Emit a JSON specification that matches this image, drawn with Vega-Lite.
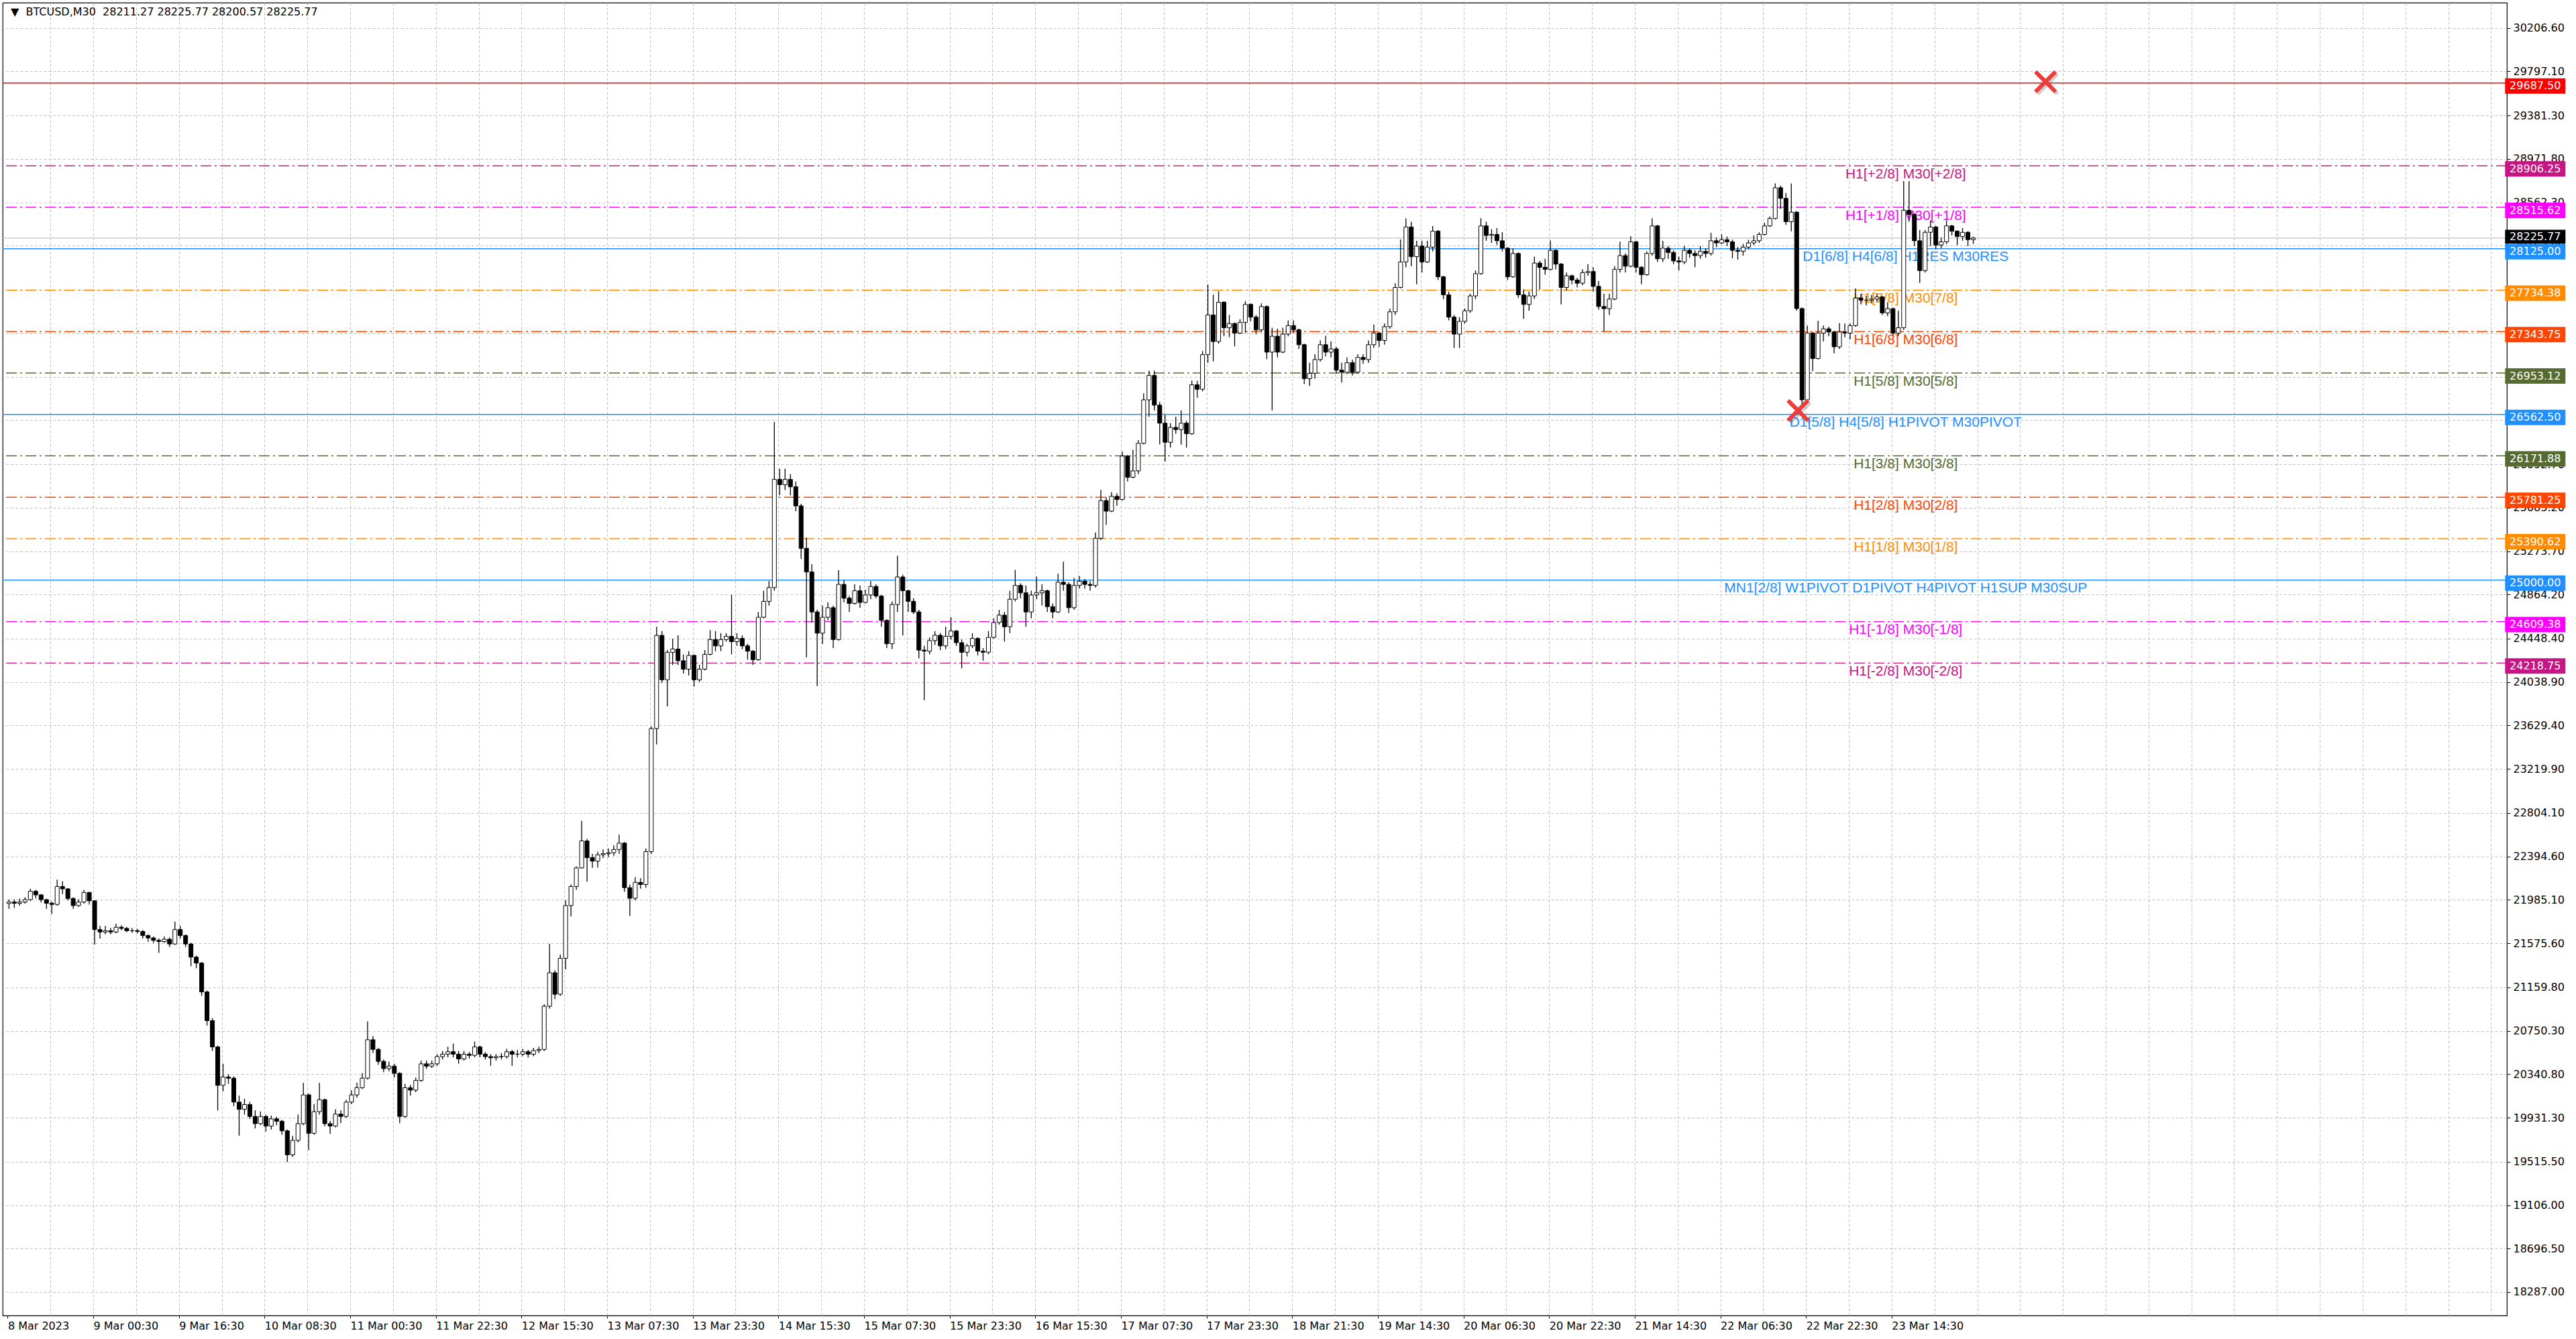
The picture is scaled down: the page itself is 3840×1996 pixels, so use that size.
{
"$schema":"https://vega.github.io/schema/vega-lite/v6.json",
"width":3733,"height":1957,
"padding":{"left":3,"top":4,"right":16,"bottom":4},
"background":"white",
"config":{"view":{"stroke":"#000000","strokeWidth":1.2,"fill":"white"},
 "axisY":{"grid":true,"gridColor":"#C0C0C0","gridDash":[4,3],"gridWidth":1,"domain":false,"ticks":true,"tickColor":"#000000","tickSize":5,"tickWidth":1,"labelFont":"DejaVu Sans","labelFontSize":16,"labelColor":"#000000","labelPadding":4,"labelAlign":"left","labelBaseline":"middle","labelOverlap":false,"labelFlush":false,"labelBound":false}},
"datasets":{
"candles":[
{"t":0,"o":21950,"h":21990,"l":21900,"c":21965},{"t":1,"o":21965,"h":21990,"l":21910,"c":21953},{"t":2,"o":21953,"h":21995,"l":21930,"c":21965},{"t":3,"o":21965,"h":22010,"l":21950,"c":21987},{"t":4,"o":21987,"h":22090,"l":21975,"c":22066},{"t":5,"o":22066,"h":22080,"l":22000,"c":22032},{"t":6,"o":22032,"h":22040,"l":21960,"c":21987},{"t":7,"o":21987,"h":21995,"l":21900,"c":21953},{"t":8,"o":21953,"h":21970,"l":21852,"c":21942},{"t":9,"o":21942,"h":22175,"l":21930,"c":22111},
{"t":10,"o":22111,"h":22160,"l":22040,"c":22089},{"t":11,"o":22089,"h":22095,"l":21980,"c":21998},{"t":12,"o":21998,"h":22010,"l":21900,"c":21931},{"t":13,"o":21931,"h":21990,"l":21920,"c":21965},{"t":14,"o":21965,"h":22080,"l":21950,"c":22055},{"t":15,"o":22055,"h":22060,"l":21940,"c":21976},{"t":16,"o":21976,"h":21980,"l":21563,"c":21705},{"t":17,"o":21705,"h":21740,"l":21620,"c":21682},{"t":18,"o":21682,"h":21740,"l":21660,"c":21694},{"t":19,"o":21694,"h":21720,"l":21660,"c":21682},
{"t":20,"o":21682,"h":21760,"l":21670,"c":21727},{"t":21,"o":21727,"h":21745,"l":21700,"c":21716},{"t":22,"o":21716,"h":21730,"l":21680,"c":21694},{"t":23,"o":21694,"h":21720,"l":21675,"c":21694},{"t":24,"o":21694,"h":21710,"l":21670,"c":21687},{"t":25,"o":21687,"h":21700,"l":21620,"c":21648},{"t":26,"o":21648,"h":21660,"l":21590,"c":21626},{"t":27,"o":21626,"h":21640,"l":21580,"c":21603},{"t":28,"o":21603,"h":21620,"l":21485,"c":21592},{"t":29,"o":21592,"h":21640,"l":21580,"c":21614},
{"t":30,"o":21614,"h":21630,"l":21540,"c":21569},{"t":31,"o":21569,"h":21779,"l":21560,"c":21705},{"t":32,"o":21705,"h":21740,"l":21620,"c":21648},{"t":33,"o":21648,"h":21660,"l":21540,"c":21569},{"t":34,"o":21569,"h":21580,"l":21360,"c":21445},{"t":35,"o":21445,"h":21460,"l":21340,"c":21389},{"t":36,"o":21389,"h":21400,"l":21080,"c":21117},{"t":37,"o":21117,"h":21130,"l":20800,"c":20846},{"t":38,"o":20846,"h":20870,"l":20560,"c":20598},{"t":39,"o":20598,"h":20610,"l":19999,"c":20236},
{"t":40,"o":20236,"h":20440,"l":20180,"c":20315},{"t":41,"o":20315,"h":20340,"l":20250,"c":20304},{"t":42,"o":20304,"h":20320,"l":20040,"c":20078},{"t":43,"o":20078,"h":20140,"l":19762,"c":20010},{"t":44,"o":20010,"h":20110,"l":19960,"c":20055},{"t":45,"o":20055,"h":20080,"l":19920,"c":19943},{"t":46,"o":19943,"h":20000,"l":19830,"c":19875},{"t":47,"o":19875,"h":19990,"l":19860,"c":19943},{"t":48,"o":19943,"h":19960,"l":19800,"c":19852},{"t":49,"o":19852,"h":19950,"l":19820,"c":19920},
{"t":50,"o":19920,"h":19940,"l":19860,"c":19898},{"t":51,"o":19898,"h":19910,"l":19770,"c":19807},{"t":52,"o":19807,"h":19820,"l":19513,"c":19581},{"t":53,"o":19581,"h":19760,"l":19560,"c":19717},{"t":54,"o":19717,"h":19960,"l":19700,"c":19875},{"t":55,"o":19875,"h":20259,"l":19860,"c":20146},{"t":56,"o":20146,"h":20160,"l":19626,"c":19784},{"t":57,"o":19784,"h":20060,"l":19770,"c":19988},{"t":58,"o":19988,"h":20259,"l":19960,"c":20101},{"t":59,"o":20101,"h":20110,"l":19850,"c":19875},
{"t":60,"o":19875,"h":19900,"l":19780,"c":19852},{"t":61,"o":19852,"h":20010,"l":19840,"c":19965},{"t":62,"o":19965,"h":20000,"l":19880,"c":19943},{"t":63,"o":19943,"h":20100,"l":19930,"c":20078},{"t":64,"o":20078,"h":20190,"l":20060,"c":20146},{"t":65,"o":20146,"h":20260,"l":20120,"c":20214},{"t":66,"o":20214,"h":20350,"l":20200,"c":20304},{"t":67,"o":20304,"h":20840,"l":20290,"c":20666},{"t":68,"o":20666,"h":20700,"l":20540,"c":20575},{"t":69,"o":20575,"h":20590,"l":20430,"c":20462},
{"t":70,"o":20462,"h":20480,"l":20360,"c":20394},{"t":71,"o":20394,"h":20460,"l":20370,"c":20417},{"t":72,"o":20417,"h":20440,"l":20310,"c":20349},{"t":73,"o":20349,"h":20360,"l":19880,"c":19943},{"t":74,"o":19943,"h":20250,"l":19930,"c":20214},{"t":75,"o":20214,"h":20240,"l":20140,"c":20191},{"t":76,"o":20191,"h":20310,"l":20170,"c":20282},{"t":77,"o":20282,"h":20470,"l":20270,"c":20439},{"t":78,"o":20439,"h":20470,"l":20390,"c":20417},{"t":79,"o":20417,"h":20470,"l":20400,"c":20439},
{"t":80,"o":20439,"h":20530,"l":20420,"c":20507},{"t":81,"o":20507,"h":20560,"l":20480,"c":20530},{"t":82,"o":20530,"h":20600,"l":20500,"c":20553},{"t":83,"o":20553,"h":20630,"l":20500,"c":20530},{"t":84,"o":20530,"h":20560,"l":20440,"c":20485},{"t":85,"o":20485,"h":20560,"l":20470,"c":20530},{"t":86,"o":20530,"h":20550,"l":20490,"c":20519},{"t":87,"o":20519,"h":20650,"l":20500,"c":20598},{"t":88,"o":20598,"h":20610,"l":20500,"c":20530},{"t":89,"o":20530,"h":20550,"l":20480,"c":20507},
{"t":90,"o":20507,"h":20530,"l":20420,"c":20496},{"t":91,"o":20496,"h":20530,"l":20470,"c":20507},{"t":92,"o":20507,"h":20540,"l":20480,"c":20507},{"t":93,"o":20507,"h":20580,"l":20490,"c":20553},{"t":94,"o":20553,"h":20570,"l":20420,"c":20530},{"t":95,"o":20530,"h":20570,"l":20500,"c":20530},{"t":96,"o":20530,"h":20580,"l":20510,"c":20553},{"t":97,"o":20553,"h":20570,"l":20500,"c":20530},{"t":98,"o":20530,"h":20590,"l":20510,"c":20564},{"t":99,"o":20564,"h":20600,"l":20540,"c":20575},
{"t":100,"o":20575,"h":21000,"l":20560,"c":20982},{"t":101,"o":20982,"h":21569,"l":20960,"c":21298},{"t":102,"o":21298,"h":21320,"l":21050,"c":21095},{"t":103,"o":21095,"h":21470,"l":21080,"c":21434},{"t":104,"o":21434,"h":21980,"l":21330,"c":21931},{"t":105,"o":21931,"h":22130,"l":21830,"c":22111},{"t":106,"o":22111,"h":22300,"l":22080,"c":22286},{"t":107,"o":22286,"h":22731,"l":22280,"c":22541},{"t":108,"o":22541,"h":22560,"l":22157,"c":22383},{"t":109,"o":22383,"h":22420,"l":22286,"c":22350},
{"t":110,"o":22350,"h":22440,"l":22290,"c":22410},{"t":111,"o":22410,"h":22460,"l":22380,"c":22420},{"t":112,"o":22420,"h":22470,"l":22390,"c":22430},{"t":113,"o":22430,"h":22500,"l":22400,"c":22460},{"t":114,"o":22460,"h":22600,"l":22420,"c":22520},{"t":115,"o":22520,"h":22530,"l":22060,"c":22100},{"t":116,"o":22100,"h":22130,"l":21834,"c":22000},{"t":117,"o":22000,"h":22200,"l":21980,"c":22150},{"t":118,"o":22150,"h":22190,"l":22090,"c":22130},{"t":119,"o":22130,"h":22470,"l":22100,"c":22440},
{"t":120,"o":22440,"h":23620,"l":22420,"c":23600},{"t":121,"o":23600,"h":24561,"l":23450,"c":24479},{"t":122,"o":24479,"h":24520,"l":24030,"c":24060},{"t":123,"o":24060,"h":24340,"l":23810,"c":24319},{"t":124,"o":24319,"h":24448,"l":24200,"c":24350},{"t":125,"o":24350,"h":24480,"l":24200,"c":24240},{"t":126,"o":24240,"h":24300,"l":24120,"c":24160},{"t":127,"o":24160,"h":24330,"l":24100,"c":24290},{"t":128,"o":24290,"h":24300,"l":23996,"c":24060},{"t":129,"o":24060,"h":24200,"l":24040,"c":24160},
{"t":130,"o":24160,"h":24340,"l":24150,"c":24300},{"t":131,"o":24300,"h":24529,"l":24290,"c":24440},{"t":132,"o":24440,"h":24520,"l":24330,"c":24380},{"t":133,"o":24380,"h":24500,"l":24330,"c":24440},{"t":134,"o":24440,"h":24500,"l":24420,"c":24470},{"t":135,"o":24470,"h":24861,"l":24300,"c":24420},{"t":136,"o":24420,"h":24500,"l":24380,"c":24450},{"t":137,"o":24450,"h":24480,"l":24350,"c":24380},{"t":138,"o":24380,"h":24400,"l":24250,"c":24330},{"t":139,"o":24330,"h":24340,"l":24200,"c":24250},
{"t":140,"o":24250,"h":24700,"l":24240,"c":24650},{"t":141,"o":24650,"h":24900,"l":24640,"c":24800},{"t":142,"o":24800,"h":24990,"l":24760,"c":24930},{"t":143,"o":24930,"h":26491,"l":24900,"c":25950},{"t":144,"o":25950,"h":26050,"l":25800,"c":25900},{"t":145,"o":25900,"h":26050,"l":25850,"c":25950},{"t":146,"o":25950,"h":26000,"l":25800,"c":25880},{"t":147,"o":25880,"h":25930,"l":25650,"c":25700},{"t":148,"o":25700,"h":25720,"l":25200,"c":25300},{"t":149,"o":25300,"h":25400,"l":24271,"c":25077},
{"t":150,"o":25077,"h":25150,"l":24600,"c":24700},{"t":151,"o":24700,"h":24720,"l":24000,"c":24500},{"t":152,"o":24500,"h":24760,"l":24400,"c":24650},{"t":153,"o":24650,"h":24790,"l":24620,"c":24740},{"t":154,"o":24740,"h":24760,"l":24360,"c":24440},{"t":155,"o":24440,"h":25094,"l":24430,"c":24960},{"t":156,"o":24960,"h":25000,"l":24790,"c":24830},{"t":157,"o":24830,"h":24850,"l":24700,"c":24780},{"t":158,"o":24780,"h":24960,"l":24770,"c":24900},{"t":159,"o":24900,"h":24950,"l":24740,"c":24790},
{"t":160,"o":24790,"h":24910,"l":24780,"c":24860},{"t":161,"o":24860,"h":24990,"l":24820,"c":24940},{"t":162,"o":24940,"h":24960,"l":24830,"c":24850},{"t":163,"o":24850,"h":24860,"l":24560,"c":24620},{"t":164,"o":24620,"h":24630,"l":24360,"c":24400},{"t":165,"o":24400,"h":24800,"l":24350,"c":24770},{"t":166,"o":24770,"h":25229,"l":24700,"c":25030},{"t":167,"o":25030,"h":25050,"l":24480,"c":24900},{"t":168,"o":24900,"h":24910,"l":24700,"c":24800},{"t":169,"o":24800,"h":24830,"l":24680,"c":24700},
{"t":170,"o":24700,"h":24720,"l":24262,"c":24340},{"t":171,"o":24340,"h":24380,"l":23868,"c":24330},{"t":172,"o":24330,"h":24460,"l":24300,"c":24430},{"t":173,"o":24430,"h":24520,"l":24390,"c":24480},{"t":174,"o":24480,"h":24500,"l":24340,"c":24380},{"t":175,"o":24380,"h":24560,"l":24350,"c":24470},{"t":176,"o":24470,"h":24650,"l":24440,"c":24520},{"t":177,"o":24520,"h":24530,"l":24380,"c":24410},{"t":178,"o":24410,"h":24440,"l":24167,"c":24320},{"t":179,"o":24320,"h":24400,"l":24280,"c":24380},
{"t":180,"o":24380,"h":24500,"l":24360,"c":24450},{"t":181,"o":24450,"h":24460,"l":24290,"c":24330},{"t":182,"o":24330,"h":24360,"l":24240,"c":24320},{"t":183,"o":24320,"h":24520,"l":24300,"c":24460},{"t":184,"o":24460,"h":24640,"l":24450,"c":24600},{"t":185,"o":24600,"h":24720,"l":24580,"c":24670},{"t":186,"o":24670,"h":24700,"l":24420,"c":24560},{"t":187,"o":24560,"h":24900,"l":24500,"c":24820},{"t":188,"o":24820,"h":25096,"l":24800,"c":24950},{"t":189,"o":24950,"h":24970,"l":24830,"c":24880},
{"t":190,"o":24880,"h":24950,"l":24560,"c":24700},{"t":191,"o":24700,"h":24900,"l":24640,"c":24860},{"t":192,"o":24860,"h":25033,"l":24820,"c":24880},{"t":193,"o":24880,"h":24960,"l":24760,"c":24900},{"t":194,"o":24900,"h":24910,"l":24700,"c":24750},{"t":195,"o":24750,"h":24780,"l":24640,"c":24700},{"t":196,"o":24700,"h":25060,"l":24690,"c":24980},{"t":197,"o":24980,"h":25174,"l":24900,"c":24960},{"t":198,"o":24960,"h":24980,"l":24690,"c":24740},{"t":199,"o":24740,"h":25020,"l":24720,"c":24950},
{"t":200,"o":24950,"h":25040,"l":24920,"c":24990},{"t":201,"o":24990,"h":25010,"l":24920,"c":24960},{"t":202,"o":24960,"h":24990,"l":24900,"c":24950},{"t":203,"o":24950,"h":25450,"l":24930,"c":25395},{"t":204,"o":25395,"h":25851,"l":25380,"c":25750},{"t":205,"o":25750,"h":25780,"l":25520,"c":25650},{"t":206,"o":25650,"h":25830,"l":25640,"c":25790},{"t":207,"o":25790,"h":25820,"l":25700,"c":25760},{"t":208,"o":25760,"h":26213,"l":25750,"c":26170},{"t":209,"o":26170,"h":26180,"l":25930,"c":25970},
{"t":210,"o":25970,"h":26229,"l":25960,"c":26030},{"t":211,"o":26030,"h":26320,"l":26000,"c":26290},{"t":212,"o":26290,"h":26760,"l":26280,"c":26700},{"t":213,"o":26700,"h":26975,"l":26540,"c":26930},{"t":214,"o":26930,"h":26975,"l":26600,"c":26650},{"t":215,"o":26650,"h":26680,"l":26280,"c":26480},{"t":216,"o":26480,"h":26560,"l":26119,"c":26300},{"t":217,"o":26300,"h":26480,"l":26250,"c":26440},{"t":218,"o":26440,"h":26540,"l":26380,"c":26420},{"t":219,"o":26420,"h":26600,"l":26276,"c":26480},
{"t":220,"o":26480,"h":26500,"l":26250,"c":26380},{"t":221,"o":26380,"h":26880,"l":26370,"c":26842},{"t":222,"o":26842,"h":26880,"l":26720,"c":26800},{"t":223,"o":26800,"h":27160,"l":26780,"c":27126},{"t":224,"o":27126,"h":27787,"l":27050,"c":27500},{"t":225,"o":27500,"h":27692,"l":27063,"c":27250},{"t":226,"o":27250,"h":27724,"l":27230,"c":27620},{"t":227,"o":27620,"h":27630,"l":27300,"c":27380},{"t":228,"o":27380,"h":27500,"l":27290,"c":27420},{"t":229,"o":27420,"h":27430,"l":27204,"c":27330},
{"t":230,"o":27330,"h":27460,"l":27320,"c":27430},{"t":231,"o":27430,"h":27632,"l":27330,"c":27600},{"t":232,"o":27600,"h":27610,"l":27440,"c":27480},{"t":233,"o":27480,"h":27500,"l":27320,"c":27360},{"t":234,"o":27360,"h":27610,"l":27340,"c":27580},{"t":235,"o":27580,"h":27590,"l":27084,"c":27150},{"t":236,"o":27150,"h":27380,"l":26600,"c":27300},{"t":237,"o":27300,"h":27370,"l":27100,"c":27150},{"t":238,"o":27150,"h":27380,"l":27140,"c":27320},{"t":239,"o":27320,"h":27450,"l":27300,"c":27400},
{"t":240,"o":27400,"h":27450,"l":27330,"c":27360},{"t":241,"o":27360,"h":27370,"l":27180,"c":27220},{"t":242,"o":27220,"h":27230,"l":26850,"c":26900},{"t":243,"o":26900,"h":27050,"l":26831,"c":26950},{"t":244,"o":26950,"h":27130,"l":26900,"c":27080},{"t":245,"o":27080,"h":27260,"l":27060,"c":27220},{"t":246,"o":27220,"h":27305,"l":27110,"c":27150},{"t":247,"o":27150,"h":27250,"l":27100,"c":27180},{"t":248,"o":27180,"h":27200,"l":26950,"c":26980},{"t":249,"o":26980,"h":27050,"l":26863,"c":26960},
{"t":250,"o":26960,"h":27100,"l":26940,"c":27050},{"t":251,"o":27050,"h":27080,"l":26930,"c":26960},{"t":252,"o":26960,"h":27130,"l":26950,"c":27100},{"t":253,"o":27100,"h":27130,"l":27040,"c":27080},{"t":254,"o":27080,"h":27260,"l":27050,"c":27220},{"t":255,"o":27220,"h":27411,"l":27190,"c":27330},{"t":256,"o":27330,"h":27340,"l":27200,"c":27260},{"t":257,"o":27260,"h":27420,"l":27220,"c":27390},{"t":258,"o":27390,"h":27560,"l":27370,"c":27530},{"t":259,"o":27530,"h":27800,"l":27500,"c":27760},
{"t":260,"o":27760,"h":28212,"l":27750,"c":28000},{"t":261,"o":28000,"h":28412,"l":27950,"c":28330},{"t":262,"o":28330,"h":28380,"l":27960,"c":28050},{"t":263,"o":28050,"h":28200,"l":27790,"c":28150},{"t":264,"o":28150,"h":28200,"l":27900,"c":28000},{"t":265,"o":28000,"h":28200,"l":27990,"c":28140},{"t":266,"o":28140,"h":28339,"l":28100,"c":28290},{"t":267,"o":28290,"h":28300,"l":27830,"c":27860},{"t":268,"o":27860,"h":27870,"l":27650,"c":27690},{"t":269,"o":27690,"h":27720,"l":27450,"c":27480},
{"t":270,"o":27480,"h":27500,"l":27189,"c":27320},{"t":271,"o":27320,"h":27480,"l":27189,"c":27440},{"t":272,"o":27440,"h":27560,"l":27420,"c":27540},{"t":273,"o":27540,"h":27700,"l":27520,"c":27680},{"t":274,"o":27680,"h":27920,"l":27650,"c":27890},{"t":275,"o":27890,"h":28412,"l":27880,"c":28340},{"t":276,"o":28340,"h":28380,"l":28200,"c":28250},{"t":277,"o":28250,"h":28310,"l":28180,"c":28260},{"t":278,"o":28260,"h":28320,"l":28160,"c":28200},{"t":279,"o":28200,"h":28280,"l":28100,"c":28130},
{"t":280,"o":28130,"h":28140,"l":27830,"c":27860},{"t":281,"o":27860,"h":28130,"l":27850,"c":28080},{"t":282,"o":28080,"h":28090,"l":27660,"c":27690},{"t":283,"o":27690,"h":27740,"l":27464,"c":27600},{"t":284,"o":27600,"h":27720,"l":27540,"c":27680},{"t":285,"o":27680,"h":28050,"l":27650,"c":27990},{"t":286,"o":27990,"h":28010,"l":27740,"c":27950},{"t":287,"o":27950,"h":28030,"l":27880,"c":27930},{"t":288,"o":27930,"h":28202,"l":27920,"c":28110},{"t":289,"o":28110,"h":28120,"l":27930,"c":27980},
{"t":290,"o":27980,"h":27990,"l":27600,"c":27760},{"t":291,"o":27760,"h":27900,"l":27730,"c":27870},{"t":292,"o":27870,"h":27880,"l":27790,"c":27830},{"t":293,"o":27830,"h":27850,"l":27760,"c":27800},{"t":294,"o":27800,"h":27930,"l":27780,"c":27900},{"t":295,"o":27900,"h":27980,"l":27870,"c":27910},{"t":296,"o":27910,"h":27950,"l":27720,"c":27770},{"t":297,"o":27770,"h":27820,"l":27550,"c":27580},{"t":298,"o":27580,"h":27700,"l":27348,"c":27560},{"t":299,"o":27560,"h":27700,"l":27500,"c":27650},
{"t":300,"o":27650,"h":27960,"l":27640,"c":27930},{"t":301,"o":27930,"h":28191,"l":27900,"c":28060},{"t":302,"o":28060,"h":28080,"l":27900,"c":27960},{"t":303,"o":27960,"h":28244,"l":27950,"c":28190},{"t":304,"o":28190,"h":28200,"l":27900,"c":27950},{"t":305,"o":27950,"h":27960,"l":27790,"c":27880},{"t":306,"o":27880,"h":28100,"l":27870,"c":28080},{"t":307,"o":28080,"h":28412,"l":28060,"c":28340},{"t":308,"o":28340,"h":28350,"l":28000,"c":28030},{"t":309,"o":28030,"h":28200,"l":28000,"c":28130},
{"t":310,"o":28130,"h":28150,"l":28030,"c":28090},{"t":311,"o":28090,"h":28110,"l":27980,"c":28010},{"t":312,"o":28010,"h":28050,"l":27920,"c":28000},{"t":313,"o":28000,"h":28150,"l":27980,"c":28110},{"t":314,"o":28110,"h":28130,"l":28040,"c":28080},{"t":315,"o":28080,"h":28110,"l":27950,"c":28060},{"t":316,"o":28060,"h":28150,"l":28030,"c":28100},{"t":317,"o":28100,"h":28130,"l":28040,"c":28080},{"t":318,"o":28080,"h":28276,"l":28060,"c":28200},{"t":319,"o":28200,"h":28230,"l":28140,"c":28180},
{"t":320,"o":28180,"h":28260,"l":28170,"c":28210},{"t":321,"o":28210,"h":28240,"l":28150,"c":28190},{"t":322,"o":28190,"h":28210,"l":28035,"c":28110},{"t":323,"o":28110,"h":28140,"l":28022,"c":28100},{"t":324,"o":28100,"h":28170,"l":28060,"c":28140},{"t":325,"o":28140,"h":28210,"l":28120,"c":28180},{"t":326,"o":28180,"h":28250,"l":28160,"c":28200},{"t":327,"o":28200,"h":28280,"l":28180,"c":28260},{"t":328,"o":28260,"h":28370,"l":28250,"c":28340},{"t":329,"o":28340,"h":28430,"l":28330,"c":28410},
{"t":330,"o":28410,"h":28741,"l":28400,"c":28700},{"t":331,"o":28700,"h":28720,"l":28500,"c":28600},{"t":332,"o":28600,"h":28650,"l":28350,"c":28380},{"t":333,"o":28380,"h":28741,"l":28290,"c":28470},{"t":334,"o":28470,"h":28480,"l":27540,"c":27561},{"t":335,"o":27561,"h":27570,"l":26640,"c":26700},{"t":336,"o":26700,"h":27400,"l":26690,"c":27330},{"t":337,"o":27330,"h":27340,"l":26970,"c":27090},{"t":338,"o":27090,"h":27445,"l":27080,"c":27330},{"t":339,"o":27330,"h":27400,"l":27250,"c":27370},
{"t":340,"o":27370,"h":27390,"l":27300,"c":27340},{"t":341,"o":27340,"h":27350,"l":27139,"c":27200},{"t":342,"o":27200,"h":27424,"l":27180,"c":27340},{"t":343,"o":27340,"h":27420,"l":27290,"c":27330},{"t":344,"o":27330,"h":27420,"l":27270,"c":27400},{"t":345,"o":27400,"h":27750,"l":27390,"c":27660},{"t":346,"o":27660,"h":27700,"l":27600,"c":27640},{"t":347,"o":27640,"h":27680,"l":27590,"c":27640},{"t":348,"o":27640,"h":27690,"l":27610,"c":27650},{"t":349,"o":27650,"h":27700,"l":27620,"c":27670},
{"t":350,"o":27670,"h":27680,"l":27500,"c":27520},{"t":351,"o":27520,"h":27620,"l":27490,"c":27560},{"t":352,"o":27560,"h":27570,"l":27308,"c":27330},{"t":353,"o":27330,"h":27540,"l":27300,"c":27380},{"t":354,"o":27380,"h":28762,"l":27360,"c":28488},{"t":355,"o":28488,"h":28762,"l":28380,"c":28450},{"t":356,"o":28450,"h":28460,"l":28150,"c":28200},{"t":357,"o":28200,"h":28300,"l":27803,"c":27919},{"t":358,"o":27919,"h":28300,"l":27900,"c":28280},{"t":359,"o":28280,"h":28393,"l":28150,"c":28330},
{"t":360,"o":28330,"h":28340,"l":28120,"c":28160},{"t":361,"o":28160,"h":28230,"l":28130,"c":28190},{"t":362,"o":28190,"h":28393,"l":28170,"c":28340},{"t":363,"o":28340,"h":28350,"l":28250,"c":28290},{"t":364,"o":28290,"h":28300,"l":28160,"c":28240},{"t":365,"o":28240,"h":28320,"l":28200,"c":28280},{"t":366,"o":28280,"h":28290,"l":28150,"c":28211},{"t":367,"o":28211,"h":28240,"l":28170,"c":28225.77}
],
"levels":[
{"p":29687.5,"g":"red","lab":""},
{"p":28906.25,"g":"violet","lab":"H1[+2/8] M30[+2/8]"},
{"p":28515.62,"g":"magenta","lab":"H1[+1/8] M30[+1/8]"},
{"p":28125,"g":"blue","lab":"D1[6/8] H4[6/8] H1RES M30RES"},
{"p":27734.38,"g":"orange","lab":"H1[7/8] M30[7/8]"},
{"p":27343.75,"g":"orangered","lab":"H1[6/8] M30[6/8]"},
{"p":26953.12,"g":"olive","lab":"H1[5/8] M30[5/8]"},
{"p":26562.5,"g":"blue","lab":"D1[5/8] H4[5/8] H1PIVOT M30PIVOT"},
{"p":26171.88,"g":"olive","lab":"H1[3/8] M30[3/8]"},
{"p":25781.25,"g":"orangered","lab":"H1[2/8] M30[2/8]"},
{"p":25390.62,"g":"orange","lab":"H1[1/8] M30[1/8]"},
{"p":25000,"g":"blue2","lab":"MN1[2/8] W1PIVOT D1PIVOT H4PIVOT H1SUP M30SUP"},
{"p":24609.38,"g":"magenta","lab":"H1[-1/8] M30[-1/8]"},
{"p":24218.75,"g":"violet","lab":"H1[-2/8] M30[-2/8]"}
],
"bid":[{"p":28225.77}],
"xm":[{"t":334.25,"p":26600},{"t":380.5,"p":29700}]
},
"data":{"name":"candles"},
"resolve":{"axis":{"x":"independent"}},
"layer":[
{"data":{"name":"levels"},"mark":{"type":"rule"},
 "encoding":{
  "y":{"field":"p","type":"quantitative","scale":{"domain":[18065.6,30445],"nice":false,"zero":false},"axis":{"orient":"right","title":null,"format":".2f","values":[18287,18696.5,19106,19515.5,19931.3,20340.8,20750.3,21159.8,21575.6,21985.1,22394.6,22804.1,23219.9,23629.4,24038.9,24448.4,24864.2,25273.7,25683.2,26092.7,26508.5,26918,27327.5,27737,28152.8,28562.3,28971.8,29381.3,29797.1,30206.6]}},
  "stroke":{"field":"g","type":"nominal","scale":{"domain":["red","violet","magenta","blue","blue2","orange","orangered","olive"],"range":["#FF0000","#C71585","#FF00FF","#1E90FF","#1E90FF","#FF8C00","#FF4500","#556B2F"]},"legend":null},
  "strokeDash":{"field":"g","type":"nominal","scale":{"domain":["red","violet","magenta","blue","blue2","orange","orangered","olive"],"range":[[1,0],[16,5,3,5],[16,5,3,5],[1,0],[1,0],[16,5,3,5],[16,5,3,5],[16,5,3,5]]},"legend":null},
  "strokeWidth":{"field":"g","type":"ordinal","scale":{"domain":["red","violet","magenta","blue","blue2","orange","orangered","olive"],"range":[1.3,1.3,1.3,1.3,2.6,1.3,1.3,1.3]},"legend":null}
 }},
{"data":{"name":"bid"},"mark":{"type":"rule","stroke":"#C0C0C0","strokeWidth":1.3},
 "encoding":{"y":{"field":"p","type":"quantitative","scale":{"domain":[18065.6,30445],"nice":false,"zero":false},"axis":{"orient":"right","title":null,"format":".2f","values":[18287,18696.5,19106,19515.5,19931.3,20340.8,20750.3,21159.8,21575.6,21985.1,22394.6,22804.1,23219.9,23629.4,24038.9,24448.4,24864.2,25273.7,25683.2,26092.7,26508.5,26918,27327.5,27737,28152.8,28562.3,28971.8,29381.3,29797.1,30206.6]}}}},
{"data":{"name":"levels"},"mark":{"type":"text","font":"Liberation Sans","fontSize":21,"align":"center","baseline":"alphabetic","dy":18.5},
 "encoding":{
  "x":{"datum":354.375,"type":"quantitative","scale":{"domain":[-0.55,466.075],"nice":false,"zero":false},"axis":null},
  "y":{"field":"p","type":"quantitative","scale":{"domain":[18065.6,30445],"nice":false,"zero":false},"axis":{"orient":"right","title":null,"format":".2f","values":[18287,18696.5,19106,19515.5,19931.3,20340.8,20750.3,21159.8,21575.6,21985.1,22394.6,22804.1,23219.9,23629.4,24038.9,24448.4,24864.2,25273.7,25683.2,26092.7,26508.5,26918,27327.5,27737,28152.8,28562.3,28971.8,29381.3,29797.1,30206.6]}},
  "text":{"field":"lab"},
  "fill":{"field":"g","type":"nominal","scale":{"domain":["red","violet","magenta","blue","blue2","orange","orangered","olive"],"range":["#FF0000","#C71585","#FF00FF","#1E90FF","#1E90FF","#FF8C00","#FF4500","#556B2F"]},"legend":null}
 }},
{"mark":{"type":"rule","stroke":"#000000","strokeWidth":1.3},
 "encoding":{
  "x":{"field":"t","type":"quantitative","scale":{"domain":[-0.55,466.075],"nice":false,"zero":false},
   "axis":{"orient":"bottom","values":[-0.25,15.75,31.75,47.75,63.75,79.75,95.75,111.75,127.75,143.75,159.75,175.75,191.75,207.75,223.75,239.75,255.75,271.75,287.75,303.75,319.75,335.75,351.75],
   "labelExpr":"['8 Mar 2023','9 Mar 00:30','9 Mar 16:30','10 Mar 08:30','11 Mar 00:30','11 Mar 22:30','12 Mar 15:30','13 Mar 07:30','13 Mar 23:30','14 Mar 15:30','15 Mar 07:30','15 Mar 23:30','16 Mar 15:30','17 Mar 07:30','17 Mar 23:30','18 Mar 21:30','19 Mar 14:30','20 Mar 06:30','20 Mar 22:30','21 Mar 14:30','22 Mar 06:30','22 Mar 22:30','23 Mar 14:30'][round((datum.value+0.25)/16)]",
   "title":null,"grid":false,"domain":false,"ticks":true,"tickSize":4,"tickColor":"#000000","tickWidth":1,
   "labelFont":"DejaVu Sans","labelFontSize":16,"labelColor":"#000000","labelAlign":"left","labelBaseline":"top","labelPadding":3,"labelOverlap":false,"labelFlush":false,"labelBound":false}},
  "y":{"field":"l","type":"quantitative","scale":{"domain":[18065.6,30445],"nice":false,"zero":false},"axis":{"orient":"right","title":null,"format":".2f","values":[18287,18696.5,19106,19515.5,19931.3,20340.8,20750.3,21159.8,21575.6,21985.1,22394.6,22804.1,23219.9,23629.4,24038.9,24448.4,24864.2,25273.7,25683.2,26092.7,26508.5,26918,27327.5,27737,28152.8,28562.3,28971.8,29381.3,29797.1,30206.6]}},
  "y2":{"field":"h"}
 }},
{"mark":{"type":"bar","size":6,"stroke":"#000000","strokeWidth":1},
 "encoding":{
  "x":{"field":"t","type":"quantitative","scale":{"domain":[-0.55,466.075],"nice":false,"zero":false},
   "axis":{"orient":"bottom","values":[7.75,15.75,23.75,31.75,39.75,47.75,55.75,63.75,71.75,79.75,87.75,95.75,103.75,111.75,119.75,127.75,135.75,143.75,151.75,159.75,167.75,175.75,183.75,191.75,199.75,207.75,215.75,223.75,231.75,239.75,247.75,255.75,263.75,271.75,279.75,287.75,295.75,303.75,311.75,319.75,327.75,335.75,343.75,351.75,359.75,367.75,375.75,383.75,391.75,399.75,407.75,415.75,423.75,431.75,439.75,447.75,455.75,463.75],
   "grid":true,"gridColor":"#C0C0C0","gridDash":[4,3],"gridWidth":1,"labels":false,"ticks":false,"domain":false,"title":null}},
  "y":{"field":"o","type":"quantitative","scale":{"domain":[18065.6,30445],"nice":false,"zero":false},"axis":{"orient":"right","title":null,"format":".2f","values":[18287,18696.5,19106,19515.5,19931.3,20340.8,20750.3,21159.8,21575.6,21985.1,22394.6,22804.1,23219.9,23629.4,24038.9,24448.4,24864.2,25273.7,25683.2,26092.7,26508.5,26918,27327.5,27737,28152.8,28562.3,28971.8,29381.3,29797.1,30206.6]}},
  "y2":{"field":"c"},
  "fill":{"condition":{"test":"datum.c >= datum.o","value":"#FFFFFF"},"value":"#000000"}
 }},
{"data":{"name":"xm"},"mark":{"type":"point","shape":"M-1,-1L1,1M1,-1L-1,1","size":900,"filled":false,"color":"#000000","strokeWidth":6,"opacity":0.18,"xOffset":3,"yOffset":3},
 "encoding":{
  "x":{"field":"t","type":"quantitative","scale":{"domain":[-0.55,466.075],"nice":false,"zero":false},"axis":null},
  "y":{"field":"p","type":"quantitative","scale":{"domain":[18065.6,30445],"nice":false,"zero":false},"axis":{"orient":"right","title":null,"format":".2f","values":[18287,18696.5,19106,19515.5,19931.3,20340.8,20750.3,21159.8,21575.6,21985.1,22394.6,22804.1,23219.9,23629.4,24038.9,24448.4,24864.2,25273.7,25683.2,26092.7,26508.5,26918,27327.5,27737,28152.8,28562.3,28971.8,29381.3,29797.1,30206.6]}}
 }},
{"data":{"name":"xm"},"mark":{"type":"point","shape":"M-1,-1L1,1M1,-1L-1,1","size":900,"filled":false,"color":"#EE3B3B","strokeWidth":6,"opacity":1},
 "encoding":{
  "x":{"field":"t","type":"quantitative","scale":{"domain":[-0.55,466.075],"nice":false,"zero":false},"axis":null},
  "y":{"field":"p","type":"quantitative","scale":{"domain":[18065.6,30445],"nice":false,"zero":false},"axis":{"orient":"right","title":null,"format":".2f","values":[18287,18696.5,19106,19515.5,19931.3,20340.8,20750.3,21159.8,21575.6,21985.1,22394.6,22804.1,23219.9,23629.4,24038.9,24448.4,24864.2,25273.7,25683.2,26092.7,26508.5,26918,27327.5,27737,28152.8,28562.3,28971.8,29381.3,29797.1,30206.6]}}
 }},
{"data":{"name":"levels"},"mark":{"type":"point","shape":"M-1,-0.256L1,-0.256L1,0.256L-1,0.256Z","size":8100,"filled":true,"opacity":1,"strokeWidth":0,"yOffset":4.5},
 "encoding":{
  "x":{"datum":472,"type":"quantitative","scale":{"domain":[-0.55,466.075],"nice":false,"zero":false},"axis":null},
  "y":{"field":"p","type":"quantitative","scale":{"domain":[18065.6,30445],"nice":false,"zero":false},"axis":{"orient":"right","title":null,"format":".2f","values":[18287,18696.5,19106,19515.5,19931.3,20340.8,20750.3,21159.8,21575.6,21985.1,22394.6,22804.1,23219.9,23629.4,24038.9,24448.4,24864.2,25273.7,25683.2,26092.7,26508.5,26918,27327.5,27737,28152.8,28562.3,28971.8,29381.3,29797.1,30206.6]}},
  "fill":{"field":"g","type":"nominal","scale":{"domain":["red","violet","magenta","blue","blue2","orange","orangered","olive"],"range":["#FF0000","#C71585","#FF00FF","#1E90FF","#1E90FF","#FF8C00","#FF4500","#556B2F"]},"legend":null}
 }},
{"data":{"name":"levels"},"mark":{"type":"text","font":"DejaVu Sans","fontSize":16,"fill":"#FFFFFF","align":"center","baseline":"middle","dy":4.5},
 "encoding":{
  "x":{"datum":472,"type":"quantitative","scale":{"domain":[-0.55,466.075],"nice":false,"zero":false},"axis":null},
  "y":{"field":"p","type":"quantitative","scale":{"domain":[18065.6,30445],"nice":false,"zero":false},"axis":{"orient":"right","title":null,"format":".2f","values":[18287,18696.5,19106,19515.5,19931.3,20340.8,20750.3,21159.8,21575.6,21985.1,22394.6,22804.1,23219.9,23629.4,24038.9,24448.4,24864.2,25273.7,25683.2,26092.7,26508.5,26918,27327.5,27737,28152.8,28562.3,28971.8,29381.3,29797.1,30206.6]}},
  "text":{"field":"p","type":"quantitative","format":".2f"}
 }},
{"data":{"name":"bid"},"mark":{"type":"point","shape":"M-1,-0.23L1,-0.23L1,0.23L-1,0.23Z","size":8100,"filled":true,"opacity":1,"strokeWidth":0,"fill":"#000000","yOffset":-2},
 "encoding":{
  "x":{"datum":472,"type":"quantitative","scale":{"domain":[-0.55,466.075],"nice":false,"zero":false},"axis":null},
  "y":{"field":"p","type":"quantitative","scale":{"domain":[18065.6,30445],"nice":false,"zero":false},"axis":{"orient":"right","title":null,"format":".2f","values":[18287,18696.5,19106,19515.5,19931.3,20340.8,20750.3,21159.8,21575.6,21985.1,22394.6,22804.1,23219.9,23629.4,24038.9,24448.4,24864.2,25273.7,25683.2,26092.7,26508.5,26918,27327.5,27737,28152.8,28562.3,28971.8,29381.3,29797.1,30206.6]}}
 }},
{"data":{"name":"bid"},"mark":{"type":"text","font":"DejaVu Sans","fontSize":16,"fill":"#FFFFFF","align":"center","baseline":"middle","dy":-2},
 "encoding":{
  "x":{"datum":472,"type":"quantitative","scale":{"domain":[-0.55,466.075],"nice":false,"zero":false},"axis":null},
  "y":{"field":"p","type":"quantitative","scale":{"domain":[18065.6,30445],"nice":false,"zero":false},"axis":{"orient":"right","title":null,"format":".2f","values":[18287,18696.5,19106,19515.5,19931.3,20340.8,20750.3,21159.8,21575.6,21985.1,22394.6,22804.1,23219.9,23629.4,24038.9,24448.4,24864.2,25273.7,25683.2,26092.7,26508.5,26918,27327.5,27737,28152.8,28562.3,28971.8,29381.3,29797.1,30206.6]}},
  "text":{"field":"p","type":"quantitative","format":".2f"}
 }},
{"data":{"values":[{}]},"mark":{"type":"text","font":"DejaVu Sans","fontSize":16,"fill":"#000000","align":"left","baseline":"middle"},
 "encoding":{
  "x":{"datum":0.325,"type":"quantitative","scale":{"domain":[-0.55,466.075],"nice":false,"zero":false},"axis":null},
  "y":{"datum":30356,"type":"quantitative","scale":{"domain":[18065.6,30445],"nice":false,"zero":false},"axis":{"orient":"right","title":null,"format":".2f","values":[18287,18696.5,19106,19515.5,19931.3,20340.8,20750.3,21159.8,21575.6,21985.1,22394.6,22804.1,23219.9,23629.4,24038.9,24448.4,24864.2,25273.7,25683.2,26092.7,26508.5,26918,27327.5,27737,28152.8,28562.3,28971.8,29381.3,29797.1,30206.6]}},
  "text":{"value":"▼\u00a0\u00a0BTCUSD,M30\u00a0\u00a028211.27 28225.77 28200.57 28225.77"}
 }}
]
}
